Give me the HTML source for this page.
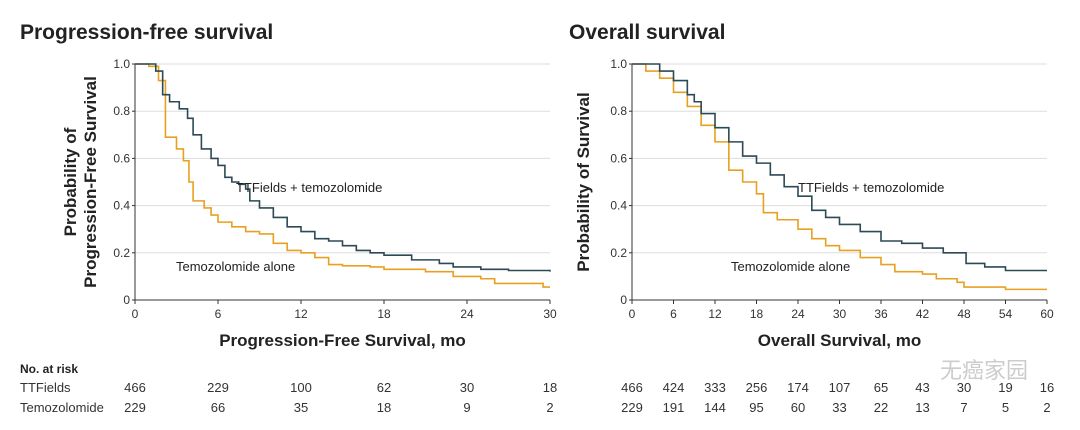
<!DOCTYPE html>
<html><head><meta charset="utf-8"><style>
body{margin:0;background:#fff;width:1080px;height:425px;overflow:hidden}
svg text{font-family:"Liberation Sans","Noto Sans CJK SC",sans-serif}
</style></head><body>
<svg id="s" width="1080" height="425" xmlns="http://www.w3.org/2000/svg">
<text x="20" y="39" font-size="21" font-weight="bold" fill="#222">Progression-free survival</text>
<text x="569" y="39" font-size="21" font-weight="bold" fill="#222">Overall survival</text>
<text x="20" y="373" font-size="12" font-weight="bold" fill="#222">No. at risk</text>
<text x="20" y="392" font-size="13" fill="#333">TTFields</text>
<text x="20" y="412" font-size="13" fill="#333">Temozolomide</text>
<text x="940" y="378" font-size="22" fill="#ccc">无癌家园</text>
</svg>
<script>
const S=document.getElementById('s'),NS='http://www.w3.org/2000/svg';
function el(t,a,txt){const e=document.createElementNS(NS,t);for(const k in a)e.setAttribute(k,a[k]);if(txt!=null)e.textContent=txt;S.appendChild(e);return e;}
function panel(x0,x1,tmax,step,ylab,xlab,curves,labs,risk){
 const y0=300,y1=64,X=t=>x0+(x1-x0)*t/tmax,Y=p=>y0-(y0-y1)*p;
 for(let i=1;i<=5;i++)el('line',{x1:x0,x2:x1,y1:Y(i/5),y2:Y(i/5),stroke:'#ddd','stroke-width':1});
 el('line',{x1:x0,x2:x0,y1:y1,y2:y0,stroke:'#333'});el('line',{x1:x0,x2:x1,y1:y0,y2:y0,stroke:'#333'});
 ['0','0.2','0.4','0.6','0.8','1.0'].forEach((l,i)=>{el('text',{x:x0-5,y:Y(i/5)+4,'font-size':12,'text-anchor':'end',fill:'#333'},l);el('line',{x1:x0-3,x2:x0,y1:Y(i/5),y2:Y(i/5),stroke:'#333'});});
 for(let t=0;t<=tmax;t+=step){el('text',{x:X(t),y:318,'font-size':12,'text-anchor':'middle',fill:'#333'},t);el('line',{x1:X(t),x2:X(t),y1:y0,y2:y0+4,stroke:'#333'});}
 curves.forEach(([c,pts])=>{let d='M'+X(pts[0][0])+','+Y(pts[0][1]);for(let i=1;i<pts.length;i++){d+=' L'+X(pts[i][0])+','+Y(pts[i-1][1])+' L'+X(pts[i][0])+','+Y(pts[i][1]);}
  el('path',{d:d,fill:'none',stroke:c,'stroke-width':1.6});});
 labs.forEach(l=>el('text',{x:l[0],y:l[1],'font-size':13,fill:'#222'},l[2]));
 el('text',{x:(x0+x1)/2,y:346,'font-size':17,'font-weight':'bold','text-anchor':'middle',fill:'#222'},xlab);
 ylab.forEach((l,i)=>el('text',{x:0,y:0,'font-size':17,'font-weight':'bold','text-anchor':'middle',fill:'#222',transform:`translate(${ylab.length==2?(76+i*20):589},182) rotate(-90)`},l));
 risk.forEach((r,j)=>r.forEach((v,i)=>el('text',{x:X(i*step),y:392+j*20,'font-size':13,'text-anchor':'middle',fill:'#333'},v)));
}
const T='#2b4a55',O='#e8a020';
panel(135,550,30,6,['Probability of','Progression-Free Survival'],'Progression-Free Survival, mo',[
[O,[[0,1],[1,0.99],[1.7,0.93],[2.2,0.69],[3,0.64],[3.5,0.59],[3.9,0.5],[4.2,0.42],[5,0.39],[5.5,0.36],[6,0.33],[7,0.31],[8,0.29],[9,0.28],[10,0.24],[11,0.21],[12,0.2],[13,0.18],[14,0.15],[15,0.145],[17,0.14],[18,0.13],[21,0.12],[23,0.1],[25,0.09],[26,0.07],[29.5,0.055],[30,0.055]]],
[T,[[0,1],[1,1],[1.5,0.97],[2,0.87],[2.5,0.84],[3.2,0.81],[3.8,0.77],[4.2,0.7],[4.8,0.64],[5.5,0.6],[6,0.57],[6.5,0.52],[7,0.5],[7.5,0.49],[8,0.47],[8.3,0.42],[9,0.39],[10,0.35],[11,0.31],[12,0.29],[13,0.26],[14,0.25],[15,0.23],[16,0.21],[17,0.2],[18,0.19],[20,0.17],[22,0.155],[23,0.14],[25,0.13],[27,0.125],[30,0.12]]]],
[[236,192,'TTFields + temozolomide'],[176,271,'Temozolomide alone']],
[[466,229,100,62,30,18],[229,66,35,18,9,2]]);
panel(632,1047,60,6,['Probability of Survival'],'Overall Survival, mo',[
[O,[[0,1],[2,0.97],[4,0.94],[6,0.88],[8,0.82],[10,0.74],[12,0.67],[14,0.55],[16,0.5],[18,0.45],[19,0.37],[21,0.34],[24,0.3],[26,0.26],[28,0.23],[30,0.21],[33,0.18],[36,0.15],[38,0.12],[42,0.11],[44,0.09],[47,0.075],[48,0.055],[54,0.045],[60,0.045]]],
[T,[[0,1],[2,1],[4,0.97],[6,0.93],[8,0.87],[9,0.84],[10,0.79],[12,0.73],[14,0.67],[16,0.61],[18,0.58],[20,0.53],[22,0.48],[24,0.44],[26,0.38],[28,0.35],[30,0.32],[33,0.29],[36,0.25],[39,0.24],[42,0.22],[45,0.2],[48,0.2],[48.3,0.155],[51,0.14],[54,0.125],[60,0.125]]]],
[[798,192,'TTFields + temozolomide'],[731,271,'Temozolomide alone']],
[[466,424,333,256,174,107,65,43,30,19,16],[229,191,144,95,60,33,22,13,7,5,2]]);
</script>
</body></html>
